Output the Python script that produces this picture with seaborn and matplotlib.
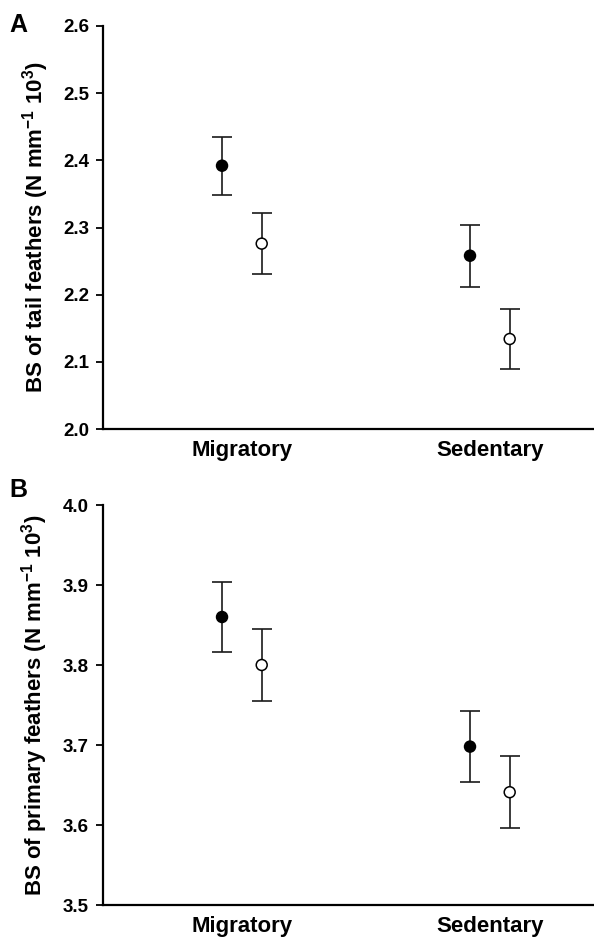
import matplotlib
matplotlib.use("Agg")
import matplotlib.pyplot as plt
import seaborn as sns
import pandas as pd
import numpy as np

sns.set_theme(style="ticks")
plt.rcParams['font.family'] = ['Liberation Sans', 'DejaVu Sans']
plt.rcParams['mathtext.fontset'] = 'custom'
plt.rcParams['mathtext.rm'] = 'Liberation Sans'
plt.rcParams['mathtext.bf'] = 'Liberation Sans:bold'
for k in ['text.color', 'axes.labelcolor', 'xtick.color', 'ytick.color', 'axes.edgecolor']:
    plt.rcParams[k] = 'black'

categories = ["Migratory", "Sedentary"]
groups = ["filled", "open"]

tail_filled_mean = [2.392, 2.258]
tail_filled_se = [0.043, 0.046]
tail_open_mean = [2.276, 2.134]
tail_open_se = [0.045, 0.045]

prim_filled_mean = [3.860, 3.698]
prim_filled_se = [0.044, 0.044]
prim_open_mean = [3.800, 3.641]
prim_open_se = [0.045, 0.045]

tail_ticks = [2.0, 2.1, 2.2, 2.3, 2.4, 2.5, 2.6]
prim_ticks = [3.5, 3.6, 3.7, 3.8, 3.9, 4.0]

offset = 0.08

def build(fm, fs, om, os_):
    rows = []
    for i, c in enumerate(categories):
        rows.append(dict(cat=c, group="filled", x=i - offset, mean=fm[i], se=fs[i]))
        rows.append(dict(cat=c, group="open", x=i + offset, mean=om[i], se=os_[i]))
    return pd.DataFrame(rows)

df_tail = build(tail_filled_mean, tail_filled_se, tail_open_mean, tail_open_se)
df_prim = build(prim_filled_mean, prim_filled_se, prim_open_mean, prim_open_se)

fig = plt.figure(figsize=(5.94, 9.42), dpi=100)
axA = fig.add_axes([103/594, 1-429/942, 1-103/594, (429-26)/942])
axB = fig.add_axes([103/594, 1-905/942, 1-103/594, (905-505)/942])

def draw(ax, df, ticks, ylabel, letter):
    for _, r in df.iterrows():
        ax.errorbar(r.x, r["mean"], yerr=r.se, fmt='none', ecolor='#1a1a1a',
                    elinewidth=1.2, capsize=7.2, capthick=1.2, zorder=2)
    sns.scatterplot(data=df, x="x", y="mean", hue="group",
                    palette={"filled": "black", "open": "white"},
                    edgecolor="black", linewidth=1.1, s=62, legend=False,
                    ax=ax, zorder=3)
    ax.set_xlim(-0.56, 1.42)
    ax.set_ylim(ticks[0], ticks[-1])
    ax.set_yticks(ticks)
    ax.set_yticklabels([f"{t:.1f}" for t in ticks], fontweight='bold', fontsize=13.5)
    ax.set_xticks(range(len(categories)))
    ax.set_xticklabels(categories, fontweight='bold', fontsize=16)
    ax.tick_params(axis='x', length=0, pad=8)
    ax.tick_params(axis='y', length=5, width=1.3, pad=5, direction='out')
    ax.set_xlabel("")
    ax.set_ylabel(ylabel, fontweight='bold', fontsize=16, labelpad=9)
    for s in ['top', 'right']:
        ax.spines[s].set_visible(False)
    for s in ['left', 'bottom']:
        ax.spines[s].set_linewidth(1.6)
        ax.spines[s].set_color('black')
    ax.set_facecolor('white')

draw(axA, df_tail, tail_ticks,
     r"BS of tail feathers (N mm$^{\mathregular{-1}}$ 10$^{\mathregular{3}}$)", "A")
draw(axB, df_prim, prim_ticks,
     r"BS of primary feathers (N mm$^{\mathregular{-1}}$ 10$^{\mathregular{3}}$)", "B")

fig.text(9/594, 1-32/942, "A", fontsize=18, fontweight='bold', ha='left', va='baseline')
fig.text(9/594, 1-497/942, "B", fontsize=18, fontweight='bold', ha='left', va='baseline')

fig.savefig("out.png", dpi=100, facecolor='white')
